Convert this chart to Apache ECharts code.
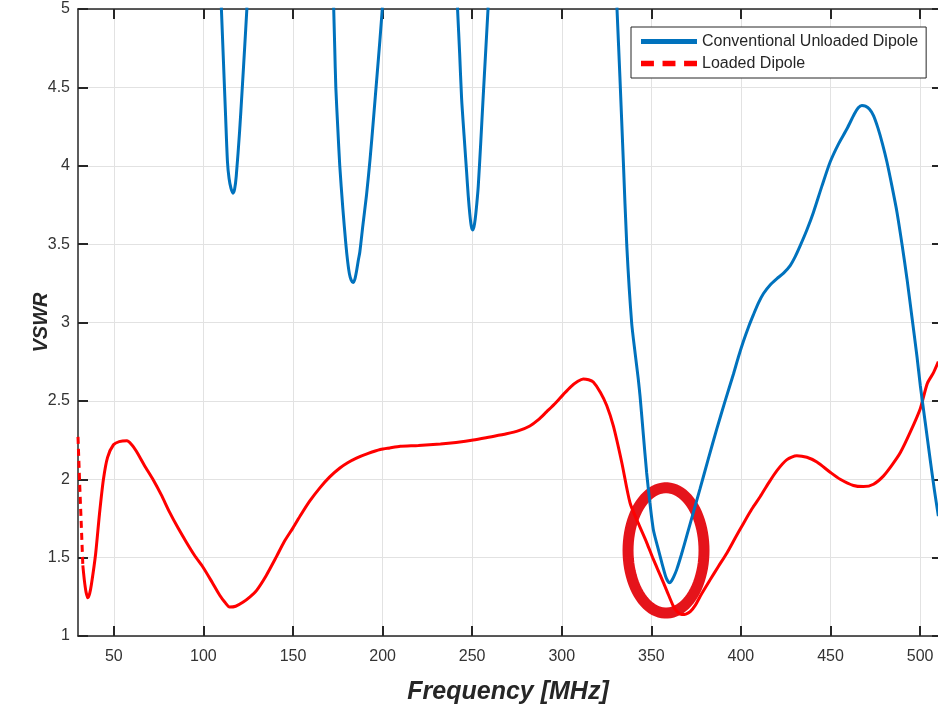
<!DOCTYPE html>
<html>
<head>
<meta charset="utf-8">
<script src="https://cdn.jsdelivr.net/npm/echarts@6/dist/echarts.min.js"></script>
<style>
  html, body { margin: 0; padding: 0; background: #fff; }
  #chart { width: 938px; height: 708px; }
</style>
</head>
<body>
<div id="chart"></div>
<script>
// ---- Data ----
const seriesNames = ['Conventional Unloaded Dipole', 'Loaded Dipole'];

const xTicks = [50, 100, 150, 200, 250, 300, 350, 400, 450, 500];
const yTicks = [1, 1.5, 2, 2.5, 3, 3.5, 4, 4.5, 5];

// Conventional unloaded dipole (VSWR > 5 regions are off chart -> gaps)
const unloadedDip1 = [[110.0,5.01],[111.2,4.66],[112.4,4.31],[113.4,4.03],[114.3,3.92],[115.4,3.855],[116.5,3.825],[117.4,3.85],[118.3,3.93],[120.2,4.22],[121.6,4.48],[123.0,4.75],[124.3,5.01]];
const unloadedDip2 = [[172.7,5.01],[173.3,4.75],[173.9,4.50],[175.0,4.24],[176.1,4.00],[177.8,3.73],[179.5,3.50],[180.5,3.39],[181.5,3.31],[182.5,3.27],[183.5,3.255],[184.5,3.275],[185.5,3.33],[186.5,3.40],[187.3,3.45],[189.0,3.62],[191.0,3.81],[193.0,4.04],[195.0,4.31],[197.0,4.59],[198.5,4.80],[199.9,5.01]];
const unloadedDip3 = [[241.8,5.01],[243.0,4.72],[244.1,4.43],[245.5,4.19],[246.9,3.96],[247.8,3.81],[248.7,3.69],[249.5,3.615],[250.2,3.59],[251.0,3.61],[251.7,3.66],[252.6,3.76],[253.4,3.87],[254.8,4.15],[256.1,4.43],[257.5,4.72],[258.9,5.01]];
const unloadedDip4 = [[330.8,5.01],[332.5,4.556],[334.4,4.02],[336.3,3.49],[339.0,3.00],[341.0,2.80],[342.7,2.64],[343.7,2.53],[345.5,2.29],[347.4,2.04],[349.2,1.85],[351.1,1.68],[353.5,1.57],[355.8,1.47],[358.0,1.38],[359.2,1.35],[360.1,1.34],[361.2,1.35],[362.6,1.38],[364.2,1.425],[366.8,1.52],[369.8,1.64],[373.5,1.79],[377.2,1.94],[381.8,2.13],[386.5,2.32],[391.2,2.50],[395.8,2.67],[398.6,2.78],[401.4,2.88],[404.2,2.97],[407.0,3.05],[409.8,3.125],[412.6,3.185],[416.3,3.24],[420.1,3.28],[423.8,3.315],[427.5,3.363],[430.3,3.42],[433.1,3.49],[436.8,3.59],[440.5,3.704],[445.2,3.87],[449.8,4.024],[454.5,4.14],[459.2,4.236],[463.3,4.33],[465.5,4.37],[467.5,4.385],[469.5,4.38],[471.8,4.36],[474.0,4.32],[476.5,4.24],[479.0,4.14],[481.5,4.024],[484.3,3.87],[487.1,3.704],[489.9,3.50],[492.7,3.278],[495.5,3.03],[498.3,2.78],[500.1,2.60],[502.9,2.36],[505.7,2.12],[508.0,1.93],[510.2,1.765]];

// Loaded dipole
const loadedStart = [[30.0,2.27],[31.0,1.95],[32.0,1.66],[32.7,1.45]];
const loadedMain = [[32.7,1.45],[33.5,1.36],[34.5,1.28],[35.5,1.244],[36.5,1.27],[37.5,1.33],[39.8,1.52],[42.0,1.78],[44.2,2.00],[46.5,2.14],[49.8,2.22],[53.0,2.24],[57.3,2.245],[60.0,2.22],[62.5,2.18],[67.0,2.09],[71.8,2.00],[76.5,1.90],[81.1,1.79],[85.8,1.69],[90.4,1.60],[95.0,1.515],[99.7,1.44],[105.0,1.34],[109.1,1.26],[112.0,1.215],[114.6,1.185],[118.0,1.19],[122.0,1.215],[126.0,1.25],[129.6,1.29],[135.0,1.385],[140.7,1.505],[145.0,1.60],[150.0,1.69],[154.5,1.775],[159.3,1.86],[165.0,1.945],[170.5,2.015],[176.0,2.07],[180.5,2.105],[185.4,2.135],[192.0,2.165],[198.7,2.19],[204.0,2.20],[209.9,2.21],[220.0,2.215],[232.3,2.225],[241.0,2.235],[250.6,2.25],[260.0,2.27],[269.2,2.29],[276.0,2.31],[282.2,2.34],[287.0,2.38],[291.5,2.43],[296.0,2.48],[300.8,2.54],[305.0,2.59],[309.0,2.625],[312.0,2.64],[315.0,2.635],[317.6,2.62],[321.6,2.554],[325.1,2.47],[328.8,2.34],[333.5,2.107],[338.1,1.85],[342.7,1.72],[347.4,1.596],[351.1,1.49],[354.9,1.39],[358.6,1.29],[362.3,1.19],[364.5,1.155],[367.0,1.137],[369.3,1.14],[371.7,1.155],[374.5,1.195],[377.3,1.254],[382.9,1.36],[387.5,1.445],[392.2,1.53],[396.8,1.625],[401.5,1.72],[406.1,1.81],[410.8,1.89],[415.4,1.975],[420.1,2.055],[425.7,2.125],[431.2,2.15],[436.8,2.14],[442.4,2.11],[449.8,2.045],[455.4,2.00],[462.8,1.96],[468.4,1.953],[474.0,1.968],[479.5,2.02],[484.3,2.09],[489.0,2.17],[494.5,2.30],[500.1,2.45],[504.0,2.61],[507.5,2.68],[510.2,2.75]];

// Highlight ellipse annotation (center and semi-axes in data units)
const ellipseCenter = [358.2, 1.546];
const ellipseSemiAxes = [21.2, 0.40];

// ---- Build chart ----
function withGaps(...segments) {
  const out = [];
  segments.forEach((seg, i) => {
    if (i > 0) out.push([seg[0][0] - 0.01, null]);
    seg.forEach(p => out.push(p));
  });
  return out;
}

const FONT = 'Liberation Sans, Arial, Helvetica, sans-serif';
const AX = '#262626';
const GRIDC = '#e2e2e2';

const chart = echarts.init(document.getElementById('chart'), null, { renderer: 'canvas' });

const option = {
  animation: false,
  backgroundColor: '#ffffff',
  textStyle: { fontFamily: FONT },
  grid: { left: 78, right: 0, top: 9, bottom: 72, containLabel: false, outerBoundsMode: 'none' },
  legend: {
    orient: 'vertical',
    left: 631,
    top: 27,
    padding: [6, 8, 6, 10],
    itemGap: 5,
    itemWidth: 56,
    itemHeight: 14,
    borderColor: AX,
    borderWidth: 1,
    borderRadius: 0,
    backgroundColor: '#ffffff',
    textStyle: { fontSize: 16, color: AX, fontFamily: FONT, lineHeight: 17 },
    data: [
      { name: seriesNames[0], icon: 'path://M0,0L56,0L56,5L0,5Z', itemStyle: { color: '#0072BD' } },
      { name: seriesNames[1], icon: 'path://M0,0L12,0L12,5L0,5Z M20,0L32,0L32,5L20,5Z M40,0L52,0L52,5L40,5Z', itemStyle: { color: '#ff0000' } }
    ]
  },
  xAxis: [
    {
      type: 'value', position: 'bottom', min: 30, max: 510,
      name: 'Frequency [MHz]', nameLocation: 'middle', nameGap: 44,
      nameTextStyle: { fontSize: 25, fontWeight: 'bold', fontStyle: 'italic', color: AX, fontFamily: FONT },
      axisLine: { show: true, onZero: false, lineStyle: { color: AX, width: 1.5 } },
      axisTick: { show: true, inside: true, length: 10, lineStyle: { color: AX, width: 2 }, customValues: xTicks },
      axisLabel: { show: true, fontSize: 16, color: '#333', margin: 13, fontFamily: FONT, customValues: xTicks },
      splitLine: { show: true, lineStyle: { color: GRIDC, width: 1 } }
    },
    {
      type: 'value', position: 'top', min: 30, max: 510,
      axisLine: { show: true, onZero: false, lineStyle: { color: AX, width: 1.5 } },
      axisTick: { show: true, inside: true, length: 10, lineStyle: { color: AX, width: 2 }, customValues: xTicks },
      axisLabel: { show: false, customValues: xTicks },
      splitLine: { show: false }
    }
  ],
  yAxis: [
    {
      type: 'value', position: 'left', min: 1, max: 5, interval: 0.5,
      name: 'VSWR', nameLocation: 'middle', nameGap: 27, nameMoveOverlap: false,
      nameTextStyle: { fontSize: 20, fontWeight: 'bold', fontStyle: 'italic', color: AX, fontFamily: FONT },
      axisLine: { show: true, onZero: false, lineStyle: { color: AX, width: 1.5 } },
      axisTick: { show: true, inside: true, length: 10, lineStyle: { color: AX, width: 2 } },
      axisLabel: { show: true, fontSize: 16, color: '#333', margin: 8, fontFamily: FONT,
        formatter: v => (yTicks.indexOf(v) >= 0 ? String(v) : '') },
      splitLine: { show: true, lineStyle: { color: GRIDC, width: 1 } }
    },
    {
      type: 'value', position: 'right', min: 1, max: 5, interval: 0.5,
      axisLine: { show: false },
      axisTick: { show: true, inside: true, length: 6, lineStyle: { color: AX, width: 2 } },
      axisLabel: { show: false },
      splitLine: { show: false }
    }
  ],
  series: [
    {
      type: 'custom',
      name: 'ellipse',
      xAxisIndex: 0, yAxisIndex: 0,
      z: 3,
      silent: true,
      data: [[ellipseCenter[0], ellipseCenter[1], ellipseSemiAxes[0], ellipseSemiAxes[1]]],
      renderItem: function (params, api) {
        const c = api.coord([api.value(0), api.value(1)]);
        const s = api.size([api.value(2), api.value(3)]);
        const pts = [];
        const N = 90;
        for (let i = 0; i < N; i++) {
          const t = (i / N) * Math.PI * 2;
          pts.push([c[0] + s[0] * Math.cos(t), c[1] + s[1] * Math.sin(t)]);
        }
        return {
          type: 'polygon',
          shape: { points: pts },
          style: { fill: 'none', stroke: '#e5141b', lineWidth: 11 }
        };
      }
    },
    {
      type: 'line',
      name: seriesNames[1],
      xAxisIndex: 0, yAxisIndex: 0,
      z: 4,
      symbol: 'none',
      data: loadedStart,
      lineStyle: { color: '#ff0000', width: 3, type: [7, 5] },
      itemStyle: { color: '#ff0000' }
    },
    {
      type: 'line',
      name: seriesNames[1],
      xAxisIndex: 0, yAxisIndex: 0,
      z: 4,
      symbol: 'none',
      smooth: 0.25,
      data: loadedMain,
      lineStyle: { color: '#ff0000', width: 3 },
      itemStyle: { color: '#ff0000' }
    },
    {
      type: 'line',
      name: seriesNames[0],
      xAxisIndex: 0, yAxisIndex: 0,
      z: 5,
      symbol: 'none',
      smooth: 0.25,
      connectNulls: false,
      clip: true,
      data: withGaps(unloadedDip1, unloadedDip2, unloadedDip3, unloadedDip4),
      lineStyle: { color: '#0072BD', width: 3 },
      itemStyle: { color: '#0072BD' }
    }
  ]
};

chart.setOption(option);
</script>
</body>
</html>
